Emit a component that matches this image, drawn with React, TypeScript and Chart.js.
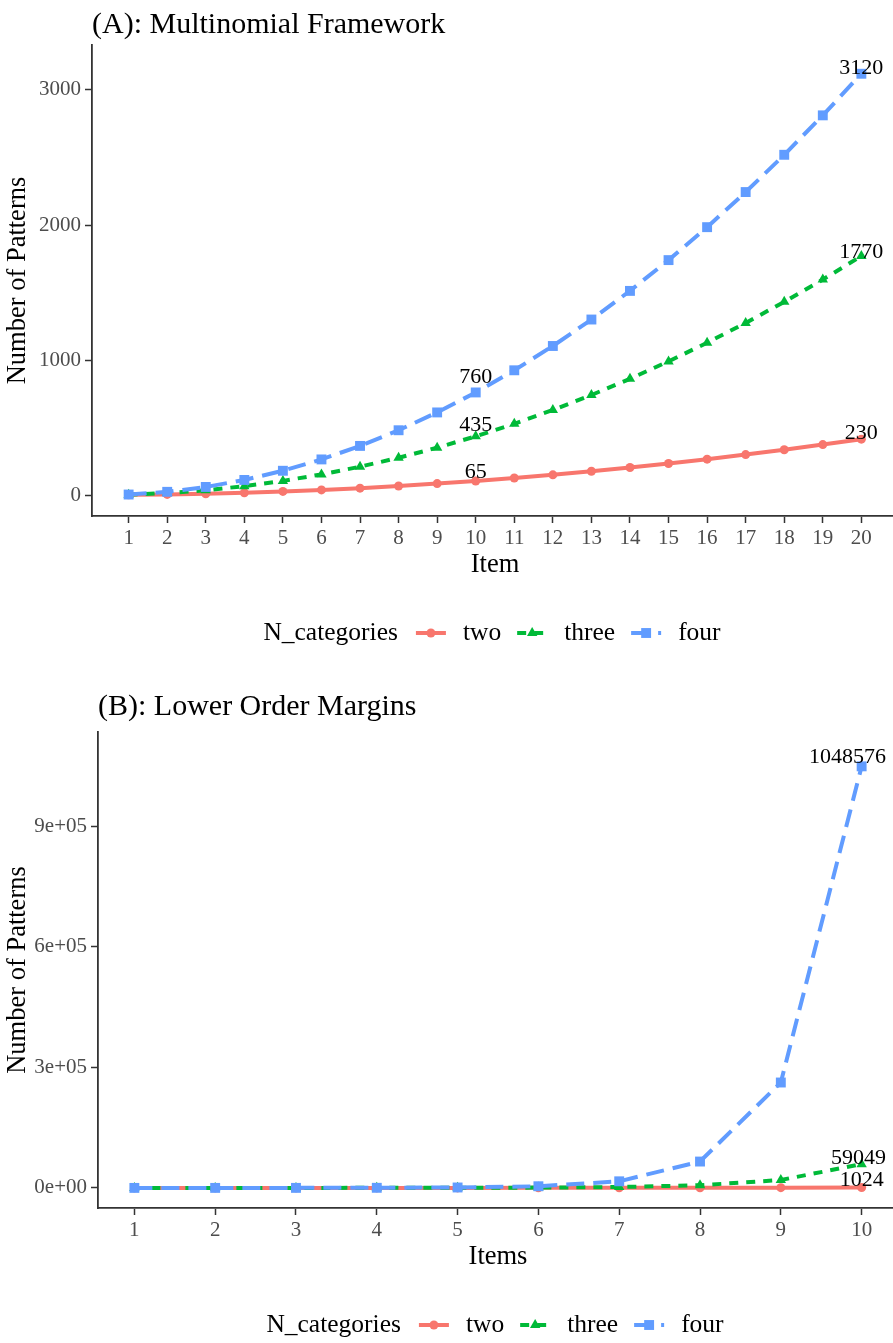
import React, { useEffect, useRef } from 'react';
import { Chart, registerables } from 'chart.js';
Chart.register(...registerables);

const FONT = "'Liberation Serif', 'Times New Roman', serif";
const COLORS = ['#F8766D', '#00BA38', '#619CFF'];
const SERIES_NAMES = ['two', 'three', 'four'];
const DASHES = [[], [9, 8], [18, 9]];
const POINT_STYLES = ['circle', 'triangle', 'rect'];
const POINT_RADII = [4.5, 6, 7];

// ---- Panel A: Multinomial Framework ----
const itemsA = [1, 2, 3, 4, 5, 6, 7, 8, 9, 10, 11, 12, 13, 14, 15, 16, 17, 18, 19, 20];
const twoA = [2, 5, 10, 17, 27, 38, 51, 67, 85, 104, 126, 150, 176, 204, 234, 266, 300, 336, 374, 414];
const threeA = [3, 15, 36, 66, 105, 153, 210, 276, 351, 435, 528, 630, 741, 861, 990, 1128, 1275, 1431, 1596, 1770];
const fourA = [4, 24, 60, 112, 180, 264, 364, 480, 612, 760, 924, 1104, 1300, 1512, 1740, 1984, 2244, 2520, 2812, 3120];
const yTicksA = [0, 1000, 2000, 3000];
const yTickLabelsA = ['0', '1000', '2000', '3000'];
const labelTextA = ['760', '435', '65', '3120', '1770', '230'];
const labelXA = [10, 10, 10, 20, 20, 20];
const labelYA = [874, 519, 170, 3163, 1800, 459];

// ---- Panel B: Lower Order Margins ----
const itemsB = [1, 2, 3, 4, 5, 6, 7, 8, 9, 10];
const twoB = [2, 4, 8, 16, 32, 64, 128, 256, 512, 1024];
const threeB = [3, 9, 27, 81, 243, 729, 2187, 6561, 19683, 59049];
const fourB = [4, 16, 64, 256, 1024, 4096, 16384, 65536, 262144, 1048576];
const yTicksB = [0, 300000, 600000, 900000];
const yTickLabelsB = ['0e+00', '3e+05', '6e+05', '9e+05'];
const labelTextB = ['1048576', '59049', '1024'];
const labelXB = [10, 10, 10];
const labelYB = [1071600, 74600, 19900];

function drawMarker(ctx: CanvasRenderingContext2D, style: string, x: number, y: number, r: number) {
  ctx.beginPath();
  if (style === 'circle') {
    ctx.arc(x, y, r, 0, Math.PI * 2);
  } else if (style === 'triangle') {
    let rad = 0;
    ctx.moveTo(x + Math.sin(rad) * r, y - Math.cos(rad) * r);
    rad += (2 * Math.PI) / 3;
    ctx.lineTo(x + Math.sin(rad) * r, y - Math.cos(rad) * r);
    rad += (2 * Math.PI) / 3;
    ctx.lineTo(x + Math.sin(rad) * r, y - Math.cos(rad) * r);
    ctx.closePath();
  } else {
    const s = r * Math.SQRT1_2;
    ctx.rect(x - s, y - s, 2 * s, 2 * s);
  }
  ctx.fill();
}

function overlayPlugin(cfg: any) {
  return {
    id: 'overlay' + cfg.id,
    afterDraw(chart: any) {
      const ctx: CanvasRenderingContext2D = chart.ctx;
      const ca = chart.chartArea;
      const xs = chart.scales.x;
      const ys = chart.scales.y;
      ctx.save();
      ctx.fillStyle = '#000';
      // title
      ctx.font = `30px ${FONT}`;
      ctx.textAlign = 'left';
      ctx.textBaseline = 'alphabetic';
      ctx.fillText(cfg.title, ca.left, cfg.titleBaseline);
      // x title
      ctx.font = `26.5px ${FONT}`;
      ctx.textAlign = 'center';
      ctx.textBaseline = 'middle';
      ctx.fillText(cfg.xTitle, (ca.left + ca.right) / 2, ca.bottom + 49);
      // y title
      ctx.save();
      ctx.translate(18, (ca.top + ca.bottom) / 2);
      ctx.rotate(-Math.PI / 2);
      ctx.fillText(cfg.yTitle, 0, 0);
      ctx.restore();
      // data labels
      ctx.font = `22px ${FONT}`;
      cfg.labelText.forEach((t: string, i: number) => {
        const px = xs.getPixelForValue(cfg.labelX[i]);
        const py = ys.getPixelForValue(cfg.labelY[i]);
        const w = ctx.measureText(t).width;
        let cx = px;
        if (cx + w / 2 > ca.right - 12) cx = ca.right - 12 - w / 2;
        ctx.fillText(t, cx, py);
      });
      // legend
      const ly = ca.bottom + 117;
      ctx.font = `25.5px ${FONT}`;
      const titleW = ctx.measureText('N_categories').width;
      const labelWs = SERIES_NAMES.map((n) => ctx.measureText(n).width);
      const keyW = 30;
      let total = titleW + 18;
      labelWs.forEach((w, i) => {
        total += keyW + 17 + w + (i < labelWs.length - 1 ? 16 : 0);
      });
      let x = (ca.left + ca.right) / 2 - 3 - total / 2;
      ctx.textAlign = 'left';
      ctx.fillText('N_categories', x, ly);
      x += titleW + 18;
      SERIES_NAMES.forEach((n, i) => {
        ctx.save();
        ctx.strokeStyle = COLORS[i];
        ctx.fillStyle = COLORS[i];
        ctx.lineWidth = 4;
        ctx.setLineDash(DASHES[i]);
        ctx.beginPath();
        ctx.moveTo(x, ly);
        ctx.lineTo(x + keyW, ly);
        ctx.stroke();
        ctx.setLineDash([]);
        drawMarker(ctx, POINT_STYLES[i], x + keyW / 2, ly, POINT_RADII[i]);
        ctx.restore();
        x += keyW + 17;
        ctx.fillText(n, x, ly);
        x += labelWs[i] + 16;
      });
      ctx.restore();
    },
  };
}

function makeConfig(opts: any) {
  const series = [opts.two, opts.three, opts.four];
  const datasets = series.map((vals: number[], i: number) => ({
    label: SERIES_NAMES[i],
    data: opts.items.map((x: number, j: number) => ({ x, y: vals[j] })),
    borderColor: COLORS[i],
    backgroundColor: COLORS[i],
    borderWidth: 4,
    borderDash: DASHES[i],
    pointStyle: POINT_STYLES[i],
    pointRadius: POINT_RADII[i],
    pointBackgroundColor: COLORS[i],
    pointBorderColor: COLORS[i],
    pointBorderWidth: 0,
    tension: 0,
    order: 2 - i,
  }));
  const tickFont = { family: FONT, size: 21 };
  return {
    type: 'line',
    data: { datasets },
    options: {
      animation: false,
      responsive: false,
      maintainAspectRatio: false,
      devicePixelRatio: 1,
      layout: { padding: { top: opts.padTop, right: 6, left: 0, bottom: 0 } },
      plugins: { legend: { display: false }, tooltip: { enabled: false }, title: { display: false } },
      scales: {
        x: {
          type: 'linear',
          bounds: 'data',
          min: opts.xMin,
          max: opts.xMax,
          afterBuildTicks: (s: any) => {
            s.ticks = opts.items.map((v: number) => ({ value: v }));
          },
          afterFit: (s: any) => {
            s.height = opts.xHeight;
          },
          ticks: {
            font: tickFont,
            color: '#4D4D4D',
            padding: 3,
            autoSkip: false,
            maxRotation: 0,
            callback: (v: number) => String(v),
          },
          grid: { display: true, drawOnChartArea: false, drawTicks: true, tickLength: 7, tickColor: '#333333', tickWidth: 1.5 },
          border: { display: true, color: '#333333', width: 1.8 },
        },
        y: {
          type: 'linear',
          bounds: 'data',
          min: opts.yMin,
          max: opts.yMax,
          afterBuildTicks: (s: any) => {
            s.ticks = opts.yTicks.map((v: number) => ({ value: v }));
          },
          afterFit: (s: any) => {
            s.width = opts.yWidth;
          },
          ticks: {
            font: tickFont,
            color: '#4D4D4D',
            padding: 4,
            autoSkip: false,
            callback: (v: number) => {
              const k = opts.yTicks.indexOf(v);
              return k >= 0 ? opts.yTickLabels[k] : '';
            },
          },
          grid: { display: true, drawOnChartArea: false, drawTicks: true, tickLength: 7, tickColor: '#333333', tickWidth: 1.5 },
          border: { display: true, color: '#333333', width: 1.8 },
        },
      },
    },
    plugins: [overlayPlugin(opts.overlay)],
  };
}

export default function App() {
  const refA = useRef<HTMLCanvasElement>(null);
  const refB = useRef<HTMLCanvasElement>(null);
  useEffect(() => {
    const chartA = new Chart(
      refA.current as HTMLCanvasElement,
      makeConfig({
        items: itemsA,
        two: twoA,
        three: threeA,
        four: fourA,
        xMin: 0.05,
        xMax: 20.95,
        yMin: -155,
        yMax: 3333,
        yTicks: yTicksA,
        yTickLabels: yTickLabelsA,
        padTop: 45,
        xHeight: 144,
        yWidth: 92,
        overlay: {
          id: 'A',
          title: '(A): Multinomial Framework',
          titleBaseline: 33,
          xTitle: 'Item',
          yTitle: 'Number of Patterns',
          labelText: labelTextA,
          labelX: labelXA,
          labelY: labelYA,
        },
      }) as any
    );
    const chartB = new Chart(
      refB.current as HTMLCanvasElement,
      makeConfig({
        items: itemsB,
        two: twoB,
        three: threeB,
        four: fourB,
        xMin: 0.55,
        xMax: 10.45,
        yMin: -50000,
        yMax: 1134000,
        yTicks: yTicksB,
        yTickLabels: yTickLabelsB,
        padTop: 72,
        xHeight: 135,
        yWidth: 98,
        overlay: {
          id: 'B',
          title: '(B): Lower Order Margins',
          titleBaseline: 55,
          xTitle: 'Items',
          yTitle: 'Number of Patterns',
          labelText: labelTextB,
          labelX: labelXB,
          labelY: labelYB,
        },
      }) as any
    );
    return () => {
      chartA.destroy();
      chartB.destroy();
    };
  }, []);
  return (
    <div style={{ position: 'absolute', left: 0, top: 0, width: 893, height: 1343, overflow: 'hidden', background: '#fff' }}>
      <canvas ref={refA} width={905} height={660} style={{ position: 'absolute', left: 0, top: 0, width: 905, height: 660 }} />
      <canvas ref={refB} width={905} height={683} style={{ position: 'absolute', left: 0, top: 660, width: 905, height: 683 }} />
    </div>
  );
}
